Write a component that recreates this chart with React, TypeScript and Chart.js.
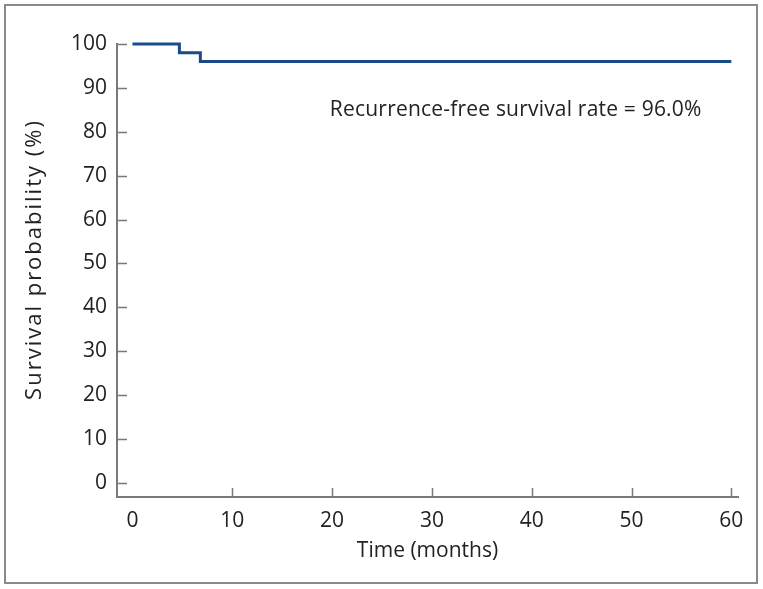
import React, { useEffect, useRef } from "react";
import { Chart, registerables } from "chart.js";

Chart.register(...registerables);

const months: number[] = [0, 4.7, 6.8, 60];
const survival: number[] = [100, 98, 96, 96];
const xTicks: number[] = [0, 10, 20, 30, 40, 50, 60];
const yTicks: number[] = [0, 10, 20, 30, 40, 50, 60, 70, 80, 90, 100];
const annotationText = "Recurrence-free survival rate = 96.0%";
const annotationAt = { x: 38.4, y: 85.0 };
const xTitle = "Time (months)";
const yTitle = "Survival probability (%)";

const FONT = "'Open Sans', 'Noto Sans', sans-serif";
const AXIS = "#7a7a7a";
const TEXT = "#222";

const innerTicks = {
  id: "innerTicks",
  afterDraw(chart: any) {
    const ctx = chart.ctx;
    const xs = chart.scales.x;
    const ys = chart.scales.y;
    const area = chart.chartArea;
    ctx.save();
    ctx.strokeStyle = AXIS;
    ctx.lineWidth = 1.5;
    ctx.beginPath();
    yTicks.forEach((v) => {
      const py = Math.round(ys.getPixelForValue(v)) + 0.5;
      ctx.moveTo(area.left, py);
      ctx.lineTo(area.left + 10, py);
    });
    xTicks.forEach((v) => {
      if (v <= 0) return;
      const px = Math.round(xs.getPixelForValue(v)) + 0.5;
      ctx.moveTo(px, area.bottom);
      ctx.lineTo(px, area.bottom - 9);
    });
    ctx.stroke();
    ctx.fillStyle = TEXT;
    ctx.font = `21px ${FONT}`;
    ctx.textAlign = "center";
    ctx.textBaseline = "middle";
    (ctx as any).letterSpacing = "0.2px";
    ctx.fillText(
      annotationText,
      xs.getPixelForValue(annotationAt.x),
      ys.getPixelForValue(annotationAt.y)
    );
    // y-axis title
    ctx.font = `22px ${FONT}`;
    (ctx as any).letterSpacing = "2px";
    ctx.translate(29, (area.top + area.bottom) / 2 - 11);
    ctx.rotate(-Math.PI / 2);
    ctx.fillText(yTitle, 0, 0);
    ctx.restore();
  },
};

export default function App() {
  const ref = useRef<HTMLCanvasElement | null>(null);
  useEffect(() => {
    if (!ref.current) return;
    const chart = new Chart(ref.current, {
      type: "line",
      data: {
        datasets: [
          {
            data: months.map((m, i) => ({ x: m, y: survival[i] })),
            borderColor: "#1a4a8a",
            borderWidth: 3,
            stepped: "before",
            pointRadius: 0,
            fill: false,
            clip: false as any,
          },
        ],
      },
      options: {
        animation: false,
        responsive: false,
        maintainAspectRatio: false,
        layout: { padding: { top: 38, right: 18, left: 0, bottom: 0 } },
        plugins: { legend: { display: false }, tooltip: { enabled: false } },
        scales: {
          x: {
            type: "linear",
            min: -1.55,
            max: 60.67,
            border: { color: AXIS, width: 2 },
            grid: { display: false, drawTicks: false },
            ticks: {
              stepSize: 10,
              includeBounds: false,
              padding: 11,
              color: TEXT,
              font: { family: FONT, size: 21 },
              maxRotation: 0,
            },
            title: {
              display: true,
              text: xTitle,
              color: TEXT,
              font: { family: FONT, size: 21 },
              padding: { top: 6, bottom: 18 },
            },
            afterFit(scale: any) {
              scale.height = 85;
            },
          },
          y: {
            type: "linear",
            min: -3.2,
            max: 100,
            border: { color: AXIS, width: 2 },
            grid: { display: false, drawTicks: false },
            ticks: {
              stepSize: 10,
              includeBounds: false,
              padding: 10,
              color: TEXT,
              font: { family: FONT, size: 21 },
            },
            title: { display: false },
            afterFit(scale: any) {
              scale.width = 111;
            },
          },
        },
      },
      plugins: [innerTicks],
    });
    return () => chart.destroy();
  }, []);
  return (
    <div
      style={{
        position: "absolute",
        left: 4,
        top: 4,
        width: 754,
        height: 580,
        border: "2px solid #8a8a8a",
        boxSizing: "border-box",
        background: "#fff",
      }}
    >
      <canvas ref={ref} width={750} height={576} style={{ display: "block" }} />
    </div>
  );
}
